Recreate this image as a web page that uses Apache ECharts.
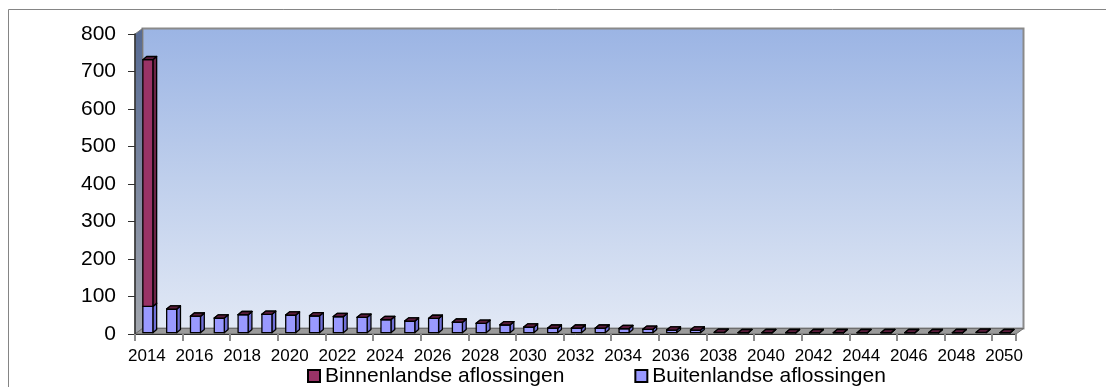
<!DOCTYPE html>
<html>
<head>
<meta charset="utf-8">
<script src="https://cdn.jsdelivr.net/npm/echarts@6/dist/echarts.min.js"></script>
<style>
  html, body { margin: 0; padding: 0; background: #fff; }
  #chart { width: 1106px; height: 387px; }
</style>
</head>
<body>
<div id="chart"></div>
<script>
// Years on the category axis
const years = ['2014','2015','2016','2017','2018','2019','2020','2021','2022','2023',
  '2024','2025','2026','2027','2028','2029','2030','2031','2032','2033',
  '2034','2035','2036','2037','2038','2039','2040','2041','2042','2043',
  '2044','2045','2046','2047','2048','2049','2050'];

// Domestic repayments (stacked on top)
const binnenlandse = [658, 0, 0, 0, 0, 0, 0, 0, 0, 0,
  0, 0, 0, 0, 0, 0, 0, 0, 0, 0,
  0, 0, 0, 0, 0, 0, 0, 0, 0, 0,
  0, 0, 0, 0, 0, 0, 0];

// Foreign repayments (bottom of the stack)
const buitenlandse = [70, 63, 44, 39, 48, 49, 47, 45, 43, 41,
  35, 31, 38, 28, 25, 21, 15, 12, 12, 12,
  11, 9, 7, 7, 1, 0, 0, 0, 0, 0,
  0, 0, 0, 0, 0, 1, 0];

// Value axis ticks
const yMin = 0, yMax = 800, yStep = 100;

const FONT = '"Liberation Sans", Arial, sans-serif';

// Stack rows: [categoryIndex, bottom, top]
const buitenRows = buitenlandse.map((v, i) => [i, 0, v]);
const binnenRows = binnenlandse.map((v, i) => [i, buitenlandse[i], buitenlandse[i] + v]);

// Pseudo-3D column: front face, right side face, top face
function columnRenderer(front, side, top) {
  return function (params, api) {
    const i = api.value(0);
    const lo = api.value(1), hi = api.value(2);
    const bw = api.size([1, 0])[0];
    const c0 = api.coord([i, lo]);
    const c1 = api.coord([i, hi]);
    const w = 0.42 * bw;
    const x0 = c0[0] - 0.17 * bw;
    const yb = c0[1] - 1.3, yt = c1[1] - 1.3;
    const dx = 3.8, dy = -3.2;
    const st = { stroke: '#000', lineWidth: 1.3, lineJoin: 'round' };
    return {
      type: 'group',
      children: [
        { type: 'polygon',
          shape: { points: [[x0 + w, yb], [x0 + w + dx, yb + dy], [x0 + w + dx, yt + dy], [x0 + w, yt]] },
          style: Object.assign({ fill: side }, st) },
        { type: 'rect',
          shape: { x: x0, y: yt, width: w, height: Math.max(0, yb - yt) },
          style: Object.assign({ fill: front }, st) },
        { type: 'polygon',
          shape: { points: [[x0, yt], [x0 + dx, yt + dy], [x0 + w + dx, yt + dy], [x0 + w, yt]] },
          style: Object.assign({ fill: top }, st) }
      ]
    };
  };
}

// Back wall, left side wall and floor of the plot box
function wallsRenderer(params) {
  const cs = params.coordSys;
  const left = cs.x, right = cs.x + cs.width;
  const top = cs.y, bottom = cs.y + cs.height;
  const dx = 7.5, dy = -5.5;
  return {
    type: 'group',
    children: [
      { type: 'rect',
        shape: { x: left + dx, y: top + dy, width: right - left, height: bottom - top },
        style: {
          fill: new echarts.graphic.LinearGradient(0, 0, 0, 1, [
            { offset: 0, color: '#9bb4e4' },
            { offset: 0.5, color: '#bfcfec' },
            { offset: 1, color: '#e1e8f5' }
          ]),
          stroke: '#8a8a8a', lineWidth: 2
        } },
      { type: 'polygon',
        shape: { points: [[left, top], [left + dx, top + dy], [left + dx, bottom + dy], [left, bottom]] },
        style: {
          fill: new echarts.graphic.LinearGradient(0, 0, 0, 1, [
            { offset: 0, color: '#566a93' },
            { offset: 1, color: '#a2a6ad' }
          ]),
          stroke: '#7a7a7a', lineWidth: 1
        } },
      { type: 'polygon',
        shape: { points: [[left, bottom], [left + dx, bottom + dy], [right + dx, bottom + dy], [right, bottom]] },
        style: { fill: '#9a9a9a', stroke: '#6e6e6e', lineWidth: 1 } }
    ]
  };
}

const chart = echarts.init(document.getElementById('chart'), null, { renderer: 'canvas' });

chart.setOption({
  animation: false,
  backgroundColor: '#ffffff',
  graphic: [{
    type: 'rect', left: 8, top: 9, z: -10,
    shape: { x: 0, y: 0, width: 1200, height: 500 },
    style: { fill: '#fff', stroke: '#858585', lineWidth: 1 }
  }],
  grid: { left: 135, right: 90, top: 34, bottom: 53 },
  legend: {
    data: ['Binnenlandse aflossingen', 'Buitenlandse aflossingen'],
    left: 307, top: 363, padding: 0,
    itemWidth: 12, itemHeight: 12, itemGap: 70,
    icon: 'rect',
    textStyle: { fontFamily: FONT, fontSize: 21, color: '#000', lineHeight: 26 },
    selectedMode: false
  },
  xAxis: {
    type: 'category',
    data: years,
    boundaryGap: true,
    z: 5,
    axisLine: { lineStyle: { color: '#303030', width: 1 } },
    axisTick: { show: true, length: 7, lineStyle: { color: '#8c8c8c', width: 2 } },
    axisLabel: { interval: 1, margin: 14, fontFamily: FONT, fontSize: 17, color: '#000' },
    splitLine: { show: false }
  },
  yAxis: {
    type: 'value',
    min: yMin, max: yMax, interval: yStep,
    z: 5,
    axisLine: { show: true, lineStyle: { color: '#303030', width: 1.5 } },
    axisTick: { show: true, length: 7, lineStyle: { color: '#303030' } },
    axisLabel: { margin: 19, fontFamily: FONT, fontSize: 21, color: '#000' },
    splitLine: { show: false }
  },
  series: [
    {
      type: 'custom', name: 'walls', z: 1, silent: true,
      renderItem: wallsRenderer,
      data: [[0, 0]],
      encode: { x: 0, y: 1 }
    },
    {
      type: 'custom', name: 'Buitenlandse aflossingen', z: 3, clip: false,
      itemStyle: { color: '#9999ff', borderColor: '#000', borderWidth: 2 },
      renderItem: columnRenderer('#9999ff', '#6f6fd6', '#4a1a33'),
      data: buitenRows,
      encode: { x: 0, y: [1, 2] }
    },
    {
      type: 'custom', name: 'Binnenlandse aflossingen', z: 4, clip: false,
      itemStyle: { color: '#993366', borderColor: '#000', borderWidth: 2 },
      renderItem: columnRenderer('#993366', '#6b2447', '#5a1c3b'),
      data: binnenRows,
      encode: { x: 0, y: [1, 2] }
    }
  ]
});
</script>
</body>
</html>
